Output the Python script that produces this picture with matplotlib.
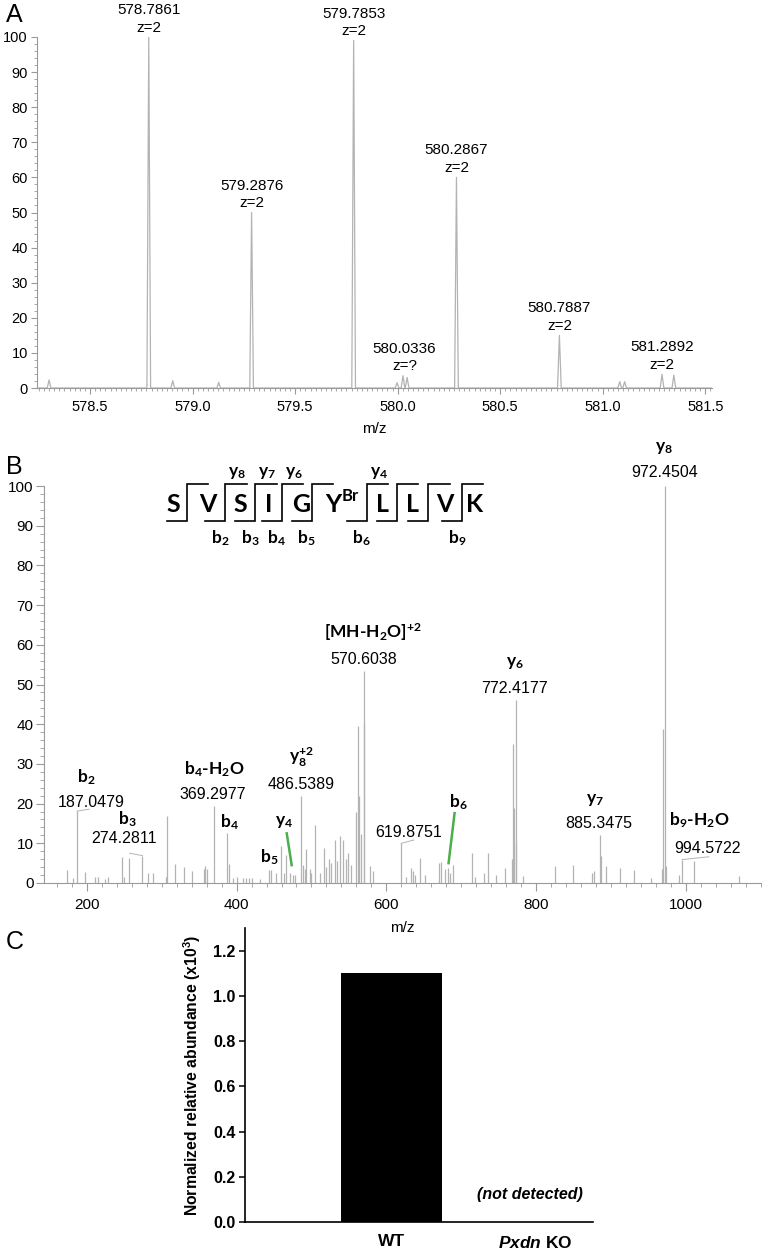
import matplotlib.pyplot as plt
from matplotlib.ticker import MultipleLocator, FormatStrFormatter

plt.rcParams['font.family'] = ['Liberation Sans', 'DejaVu Sans']
plt.rcParams['mathtext.default'] = 'regular'
plt.rcParams['mathtext.fontset'] = 'custom'
plt.rcParams['mathtext.it'] = 'Liberation Sans:italic:bold'

# ---------------- data ----------------
# A: precursor isotope envelope (profile peaks: centre m/z, relative intensity)
a_mz = [578.300, 578.7861, 578.903, 579.127, 579.2876, 579.7853, 579.997,
        580.026, 580.046, 580.2867, 580.7887, 581.083, 581.107, 581.2892, 581.347]
a_int = [2.3, 100, 2.1, 1.6, 50, 99, 1.5, 3.5, 3.0, 60, 15, 1.8, 1.8, 3.9, 3.7]
a_label_mz = [578.7861, 579.2876, 579.7853, 580.0336, 580.2867, 580.7887, 581.2892]
a_label_z = ['z=2', 'z=2', 'z=2', 'z=?', 'z=2', 'z=2', 'z=2']

# B: MS/MS spectrum (stick peaks)
b_mz = [173.2, 181.2, 187.0479, 197.2, 211.0, 215.4, 224.3, 228.7, 246.6, 249.7,
        256.7, 274.2811, 282.0, 287.9, 305.2, 307.4, 318.0, 330.0, 341.2, 356.3,
        358.3, 360.3, 369.2977, 387.6, 390.0, 395.4, 400.7, 408.0, 413.0, 417.0,
        421.0, 431.0, 443.4, 446.5, 453.2, 459.9, 463.0, 466.6, 471.0, 475.4,
        478.0, 486.5389, 488.7, 491.0, 493.2, 497.7, 499.9, 504.7, 511.0, 516.3,
        519.9, 523.4, 526.5, 530.9, 534.0, 537.6, 542.0, 545.6, 548.7, 553.2,
        559.0, 561.8, 563.0, 566.5, 569.8, 570.6038, 578.5, 582.0,
        619.8751, 626.6, 632.3, 635.4, 638.5, 644.3, 651.0, 670.0, 673.2, 677.7,
        682.1, 685.3, 688.8, 714.0, 717.7, 730.1, 735.5, 745.7, 757.7, 768.0,
        768.7, 770.6, 772.4177, 773.1, 782.0, 825.6, 849.6, 874.5, 877.6,
        885.3475, 886.5, 893.0, 911.8, 931.0, 953.0, 967.7, 969.5, 972.4504,
        973.7, 991.0, 994.5722, 1011.0, 1071.0]
b_int = [3.2, 1.2, 18.1, 2.8, 1.5, 1.5, 1.0, 1.5, 6.6, 1.5,
         6.2, 6.9, 2.5, 2.5, 1.5, 17.0, 4.9, 4.0, 3.0, 3.5,
         4.2, 3.5, 19.5, 12.6, 4.8, 1.2, 1.5, 1.3, 1.3, 1.3,
         1.3, 1.0, 3.4, 3.2, 2.5, 9.2, 2.5, 7.1, 2.5, 2.0,
         2.0, 22.0, 4.5, 3.5, 8.6, 3.5, 2.5, 14.7, 2.5, 8.8,
         4.0, 6.0, 5.0, 10.9, 5.5, 11.9, 10.9, 6.0, 7.6, 4.5,
         18.0, 39.5, 22.0, 12.4, 40.3, 53.5, 4.2, 3.0,
         10.0, 1.5, 3.8, 3.0, 2.0, 6.3, 2.0, 5.0, 5.2, 3.5,
         3.8, 2.5, 4.6, 7.6, 1.5, 2.5, 7.6, 2.0, 3.8, 6.0,
         34.9, 18.9, 46.2, 10.0, 1.7, 4.2, 4.5, 2.5, 2.9,
         12.2, 6.7, 4.2, 3.8, 3.4, 1.3, 3.5, 38.7, 100.0,
         4.2, 2.0, 5.9, 5.5, 1.7]
b_ion_names = ['b$_2$', 'b$_3$', 'b$_4$-H$_2$O', 'b$_4$', 'y$_8^{+2}$', 'y$_4$', 'b$_5$',
               '[MH-H$_2$O]$^{+2}$', 'y$_6$', 'b$_6$', 'y$_7$', 'b$_9$-H$_2$O', 'y$_8$']
b_value_mz = [187.0479, 274.2811, 369.2977, 486.5389, 570.6038, 772.4177,
              619.8751, 885.3475, 994.5722, 972.4504]

# C: normalized abundance
c_groups = ['WT', '$\\mathit{Pxdn}$ KO']
c_values = [1.1, 0.0]

# peptide sequence, modification and observed fragments
peptide = ['S', 'V', 'S', 'I', 'G', 'Y', 'L', 'L', 'V', 'K']
mod_site, mod_name = 5, 'Br'
b_frag = [2, 3, 4, 5, 6, 9]
y_frag = [8, 7, 6, 4]

# ---------------- layout ----------------
W, H = 762, 1255
fig = plt.figure(figsize=(W / 100, H / 100), dpi=100)
spine_gray = '#9a9a9a'
peak_gray = '#b3b3b3'


def px_axes(l, t, r, b):
    a = fig.add_axes([l / W, 1 - b / H, (r - l) / W, (b - t) / H])
    a.patch.set_visible(False)
    return a


# ---- panel A ----
ax = px_axes(37, 37, 712, 388)
w = 0.009
xs, ys = [578.241], [0]
for m, h in sorted(zip(a_mz, a_int)):
    xs += [m - w, m, m + w]
    ys += [0, h, 0]
xs.append(581.533)
ys.append(0)
ax.plot(xs, ys, color=peak_gray, lw=0.9)
ax.set_xlim(578.241, 581.533)
ax.set_ylim(0, 100)
for m, z in zip(a_label_mz, a_label_z):
    top = max(h for mm, h in zip(a_mz, a_int) if abs(mm - m) < 0.03)
    ax.annotate(f'{m:.4f}', (m, top), xytext=(0, 27), textcoords='offset pixels',
                ha='center', va='center', fontsize=11, annotation_clip=False)
    ax.annotate(z, (m, top), xytext=(0, 9.5), textcoords='offset pixels',
                ha='center', va='center', fontsize=11, annotation_clip=False)
ax.xaxis.set_major_locator(MultipleLocator(0.5))
ax.xaxis.set_minor_locator(MultipleLocator(0.025))
ax.xaxis.set_major_formatter(FormatStrFormatter('%.1f'))
ax.yaxis.set_major_locator(MultipleLocator(10))
ax.yaxis.set_minor_locator(MultipleLocator(2))
ax.set_xlabel('m/z', fontsize=11, labelpad=6)
for s in ['top', 'right']:
    ax.spines[s].set_visible(False)
for s in ['left', 'bottom']:
    ax.spines[s].set_color(spine_gray)
    ax.spines[s].set_linewidth(0.8)
ax.tick_params(which='major', length=4.5, color=spine_gray, labelsize=10.5, pad=2)
ax.tick_params(axis='x', which='major', pad=4)
ax.tick_params(which='minor', length=2.2, color=spine_gray)

# ---- panel B ----
bx = px_axes(44, 486, 761, 883)
bx.vlines(b_mz, 0, b_int, color=peak_gray, lw=0.9)
bx.set_xlim(143, 1100)
bx.set_ylim(0, 100)
bx.xaxis.set_major_locator(MultipleLocator(200))
bx.xaxis.set_minor_locator(MultipleLocator(20))
bx.yaxis.set_major_locator(MultipleLocator(10))
bx.yaxis.set_minor_locator(MultipleLocator(2))
bx.set_xlabel('m/z', fontsize=11, labelpad=7)
for s in ['top', 'right']:
    bx.spines[s].set_visible(False)
for s in ['left', 'bottom']:
    bx.spines[s].set_color(spine_gray)
    bx.spines[s].set_linewidth(0.8)
bx.tick_params(which='major', length=5.5, color=spine_gray, labelsize=11, pad=2)
bx.tick_params(axis='x', which='major', pad=5)
bx.tick_params(which='minor', length=3, color=spine_gray)

ion_pos = [(200, 26.7), (254, 16.0), (370, 28.7), (390, 15.4), (486, 31.7), (464, 15.4),
           (443, 6.5), (582, 63.2), (771, 55.4), (696, 20.4), (878, 20.9), (1018, 15.9),
           (971, 109.6)]
value_pos = [(206, 20.4), (250, 11.3), (368, 22.4), (486, 24.7), (570, 56.4), (771, 49.1),
             (630, 12.6), (884, 15.1), (1028, 8.6), (971, 103.3)]
for name, (x, y) in zip(b_ion_names, ion_pos):
    bx.text(x, y, name, family='Lato', weight='bold', fontsize=12.5,
            ha='center', va='center', clip_on=False)
for m, (x, y) in zip(b_value_mz, value_pos):
    bx.text(x, y, f'{m:.4f}', fontsize=11.5, ha='center', va='center', clip_on=False)

# short leader lines from peak tops to their value labels
for m, end in [(187.0479, (203.4, 18.6)), (274.2811, (257.2, 7.5)),
               (619.8751, (636.3, 10.8)), (994.5722, (1030.5, 6.6))]:
    h = b_int[b_mz.index(m)]
    bx.plot([m, end[0]], [h, end[1]], color=peak_gray, lw=0.7)

# green pointer lines for y4 and b6
bx.plot([467, 473.6], [12.5, 4.5], color='#4cae4c', lw=1.8)
bx.plot([691, 683], [17.6, 5.0], color='#4cae4c', lw=1.8)

# ---- panel C ----
cx = px_axes(245, 928, 593, 1222)
cx.bar([0, 1], c_values, width=0.7, color='black', linewidth=0)
cx.set_xlim(-1.02, 1.40)
cx.set_ylim(0, 1.3)
cx.set_xticks([0, 1])
cx.set_xticklabels(c_groups, fontsize=12.5, weight='bold')
cx.tick_params(axis='x', length=0, pad=9)
cx.set_yticks([0, 0.2, 0.4, 0.6, 0.8, 1.0, 1.2])
cx.yaxis.set_major_formatter(FormatStrFormatter('%.1f'))
cx.tick_params(axis='y', length=4, width=1.1, labelsize=11.5, pad=3)
for lab in cx.get_yticklabels():
    lab.set_fontweight('bold')
for s in ['top', 'right']:
    cx.spines[s].set_visible(False)
for s in ['left', 'bottom']:
    cx.spines[s].set_linewidth(1.2)
cx.set_ylabel('Normalized relative abundance (x10$^3$)', fontsize=11.3, weight='bold',
              labelpad=7)
cx.text(0.96, 0.12, '(not detected)', fontsize=11.5, weight='bold', style='italic',
        ha='center', va='center')

# ---- overlay: panel letters and peptide map (pixel coordinates) ----
ov = fig.add_axes([0, 0, 1, 1])
ov.set_xlim(0, W)
ov.set_ylim(H, 0)
ov.axis('off')
for letter, y in [('A', 3), ('B', 455), ('C', 930)]:
    ov.text(6, y, letter, fontsize=18, ha='left', va='top')

seq_x = [173, 207.5, 240.7, 269, 300.7, 333, 383, 413, 445, 475]
cleave_x = [186.7, 225, 255, 281.7, 311.7, 366.7, 396.7, 428.3, 461.7]
top_y, bot_y = 483.5, 520.5
for i, (x, aa) in enumerate(zip(seq_x, peptide)):
    ov.text(x, 505, aa, family='Lato', weight='bold', fontsize=18, ha='center', va='center')
    if i == mod_site:
        ov.text(x + 9, 496, mod_name, family='Lato', weight='bold', fontsize=12,
                ha='left', va='center')
for cxp in cleave_x:
    ov.plot([cxp - 20, cxp, cxp, cxp + 21.5], [bot_y, bot_y, top_y, top_y],
            color='black', lw=1.2, solid_joinstyle='miter')
for k in b_frag:
    ov.text(cleave_x[k - 1] - 5, 538, f'b$_{k}$', family='Lato', weight='bold',
            fontsize=12.5, ha='center', va='center')
for k in y_frag:
    ov.text(cleave_x[len(peptide) - k - 1] + 12, 473, f'y$_{k}$', family='Lato',
            weight='bold', fontsize=12.5, ha='center', va='center')

fig.savefig('out.png', dpi=100)
